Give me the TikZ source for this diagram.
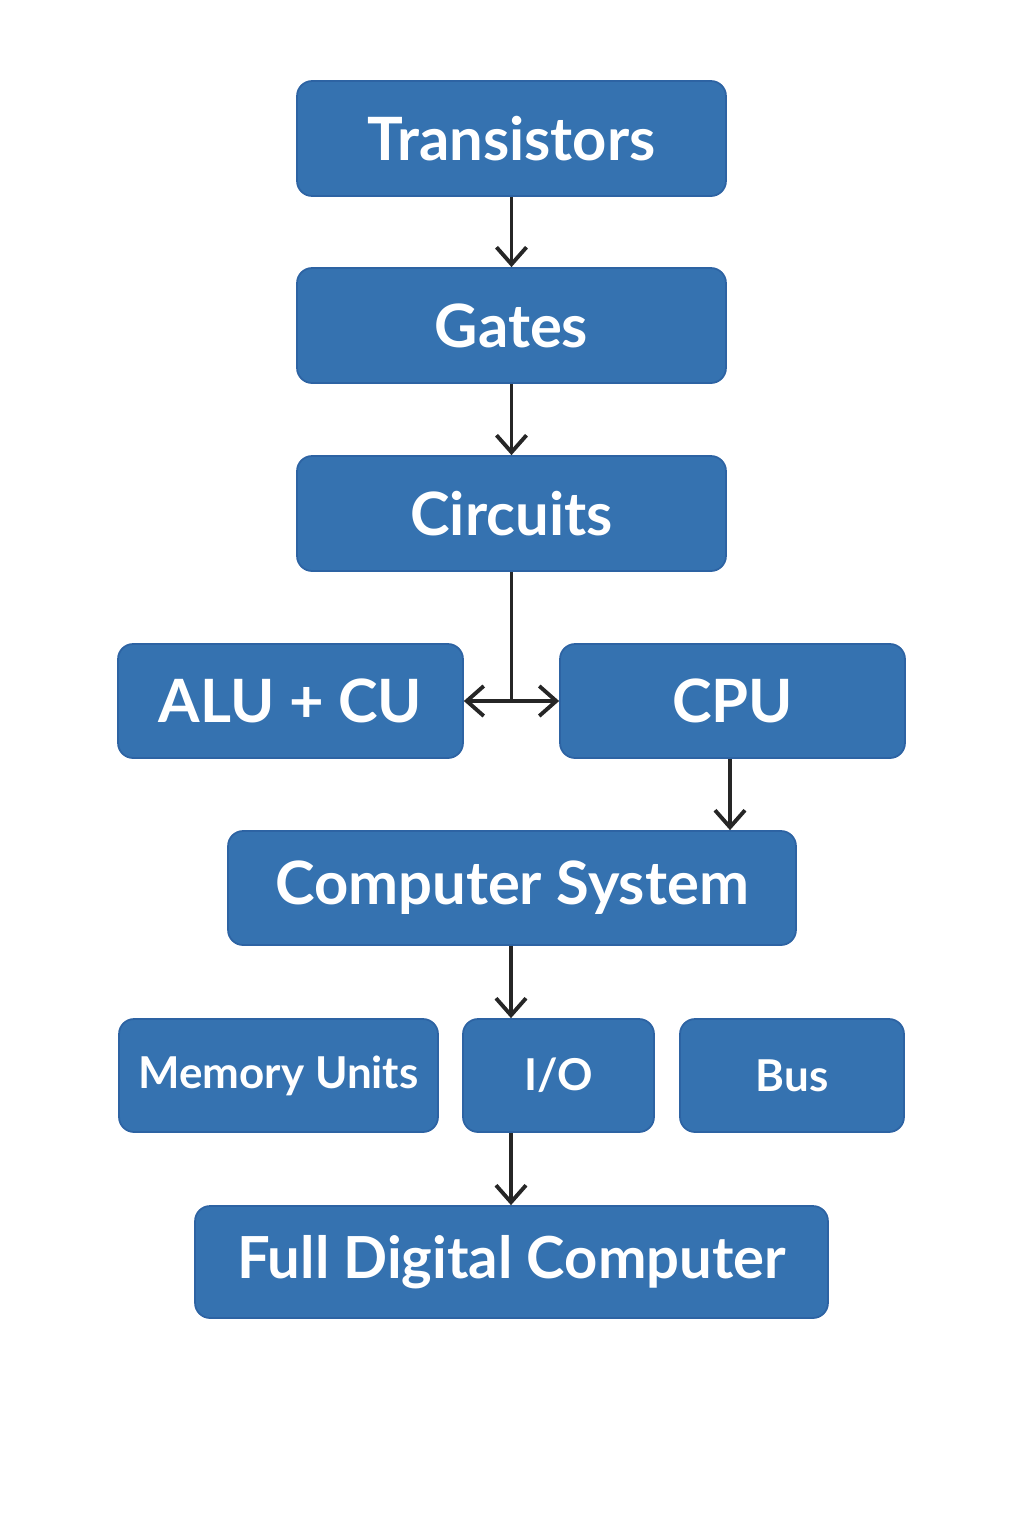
\documentclass[tikz,border=0pt]{standalone}
\usepackage{fontspec}
\setmainfont{Lato}
\usetikzlibrary{arrows.meta}
\definecolor{boxblue}{HTML}{3572B0}
\definecolor{boxedge}{HTML}{2D63A3}
\definecolor{linegray}{HTML}{262626}
\begin{document}
\begin{tikzpicture}[x=0.02cm, y=-0.02cm,
	block/.style={draw=boxedge, line width=1pt, fill=boxblue, rounded corners=0.3cm,
		text=white, font=\fontsize{34}{38}\selectfont\bfseries, inner sep=0pt},
	smallblock/.style={block, font=\fontsize{25}{30}\selectfont\bfseries},
	link/.style={draw=linegray, line width=2.2pt,
		-{Straight Barb[length=0.34cm,width=0.6cm,line width=2.2pt]}}]
	\useasboundingbox (0,0) rectangle (1024,1536);
	
	\node[block, minimum width=8.58cm, minimum height=2.3cm] (trans) at (511.5,138.5) {Transistors};
	\node[block, minimum width=8.58cm, minimum height=2.3cm] (gates) at (511.5,325.5) {Gates};
	\node[block, minimum width=8.58cm, minimum height=2.3cm] (circ) at (511.5,513.5) {Circuits};
	
	\node[block, minimum width=6.9cm, minimum height=2.28cm] (alu) at (290.5,701) {ALU + CU};
	\node[block, minimum width=6.9cm, minimum height=2.28cm] (cpu) at (732.5,701) {CPU};
	
	\node[block, minimum width=11.36cm, minimum height=2.28cm] (sys) at (512,888) {Computer System};
	
	\node[smallblock, minimum width=6.38cm, minimum height=2.26cm] (mem) at (278.5,1075.5) {Memory Units};
	\node[smallblock, minimum width=3.82cm, minimum height=2.26cm] (io) at (558.5,1075.5) {I/O};
	\node[smallblock, minimum width=4.48cm, minimum height=2.26cm] (bus) at (792,1075.5) {Bus};
	
	\node[block, font=\fontsize{33}{38}\selectfont\bfseries, minimum width=12.66cm, minimum height=2.24cm] (full) at (511.5,1262) {Full Digital Computer};
	
	% vertical chain
	\draw[link] (trans.south) -- (gates.north);
	\draw[link] (gates.south) -- (circ.north);
	
	% split to ALU + CU and CPU
	\coordinate (split) at (circ.south |- alu.east);
	\draw[draw=linegray, line width=2.2pt] (circ.south) -- (split);
	\draw[link] (split) -- (alu.east);
	\draw[link] (split) -- (cpu.west);
	
	\draw[link] (cpu.south -| 730,0) -- (sys.north -| 730,0);
	\draw[link] (sys.south -| 511,0) -- (io.north -| 511,0);
	\draw[link] (io.south -| 511,0) -- (full.north -| 511,0);
\end{tikzpicture}
\end{document}
